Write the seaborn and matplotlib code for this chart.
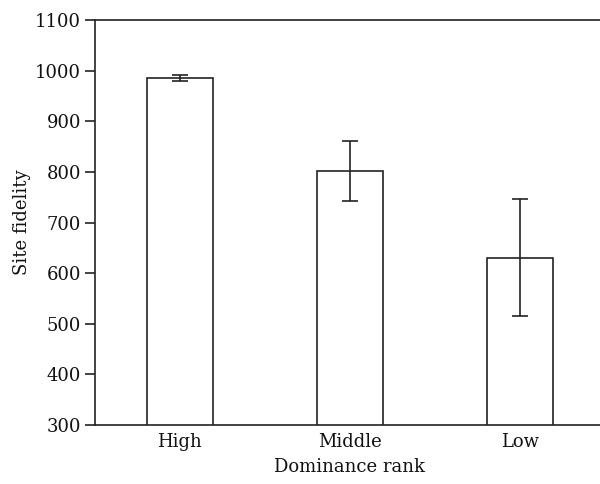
import matplotlib
matplotlib.use("Agg")
import matplotlib.pyplot as plt
import numpy as np
import pandas as pd
import seaborn as sns

ranks = ["High", "Middle", "Low"]
fidelity = [985, 803, 631]
err_low = [5, 61, 116]
err_high = [7, 58, 115]

sns.set_theme(style="white")
plt.rcParams.update(
    {
        "font.family": "DejaVu Serif",
        "font.size": 13,
        "axes.edgecolor": "#222222",
        "axes.linewidth": 1.2,
        "text.color": "#111111",
        "axes.labelcolor": "#111111",
        "xtick.color": "#111111",
        "ytick.color": "#111111",
    }
)

df = pd.DataFrame({"rank": ranks, "fidelity": fidelity})

fig = plt.figure(figsize=(6.0, 4.84), dpi=100)
ax = fig.add_axes([0.158, 0.122, 0.85, 0.836])

sns.barplot(
    data=df,
    x="rank",
    y="fidelity",
    order=ranks,
    color="white",
    edgecolor="#222222",
    linewidth=1.2,
    width=0.39,
    errorbar=None,
    ax=ax,
)
ax.errorbar(
    np.arange(len(ranks)),
    fidelity,
    yerr=[err_low, err_high],
    fmt="none",
    ecolor="#222222",
    elinewidth=1.2,
    capsize=6,
    capthick=1.2,
)

ax.set_ylim(300, 1100)
ax.set_xlim(-0.5, 2.5)
ax.set_yticks(range(300, 1101, 100))
ax.spines["right"].set_visible(False)
ax.tick_params(axis="y", left=True, direction="out", length=7, width=1.2,
               color="#222222", labelsize=13, pad=3)
ax.tick_params(axis="x", bottom=False, length=0, labelsize=13, pad=6)
ax.set_xlabel("Dominance rank", fontsize=13, labelpad=5)
ax.set_ylabel("Site fidelity", fontsize=13, labelpad=3)

fig.savefig("out.png", dpi=100, facecolor="white")
